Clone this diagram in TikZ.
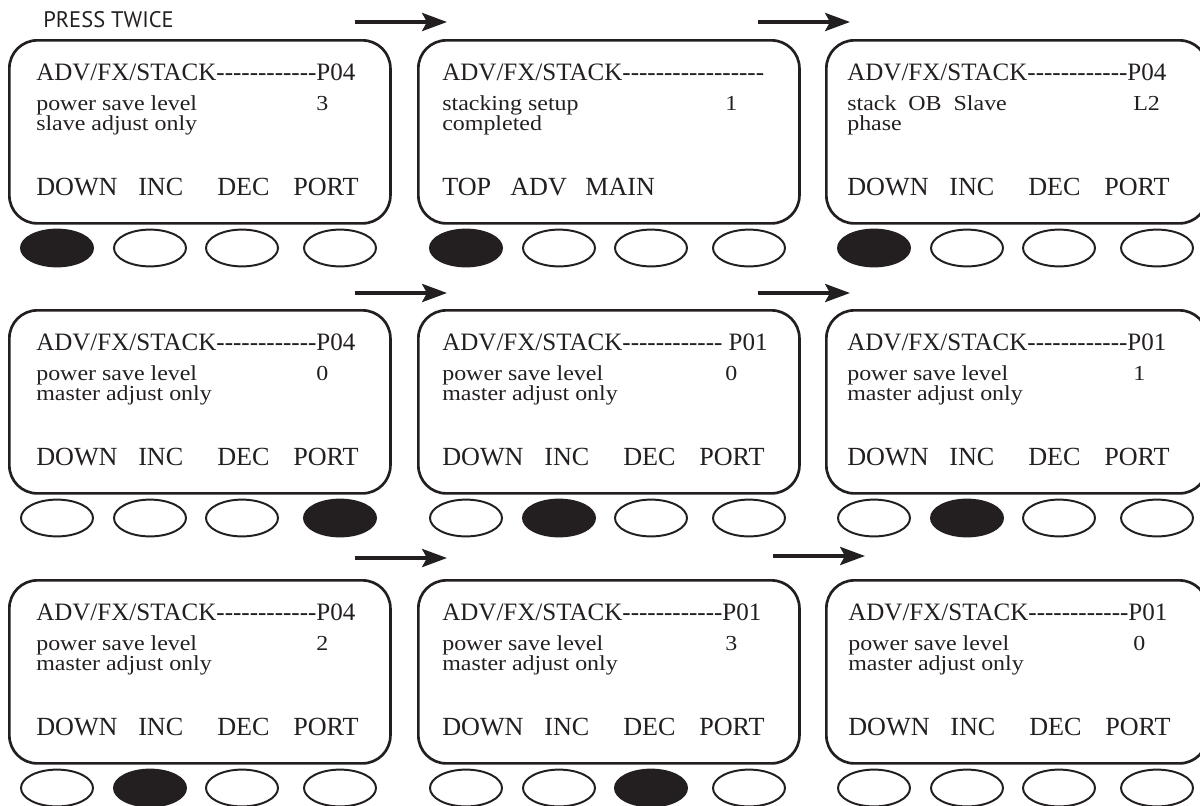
\documentclass[tikz,border=0pt]{standalone}
\usepackage{fontspec}
\setmainfont{Liberation Serif}
\newfontfamily\widefont[FakeStretch=1.12]{Liberation Serif}
\newfontfamily\notefont{PT Sans}
\usetikzlibrary{shapes.geometric,arrows.meta}
\definecolor{ink}{HTML}{231F20}

% a row of hyphens that do not turn into dashes
\newcommand{\dashes}[1]{\foreach \m in {1,...,#1}{-}}
% soft key labels: offset from the text edge / label
\newcommand{\softrow}{0/DOWN,102/INC,181/DEC,257/PORT}
% #1 name, #2 #3 top left corner, #4 text inset, #5 title tail,
% #6 first line, #7 value, #8 second line, #9 key pressed (0 = none)
\newcommand{\lcdscreen}[9]{%
  \node[screen] (#1) at (#2,#3) {};
  \node[lcdtitle] (#1-head) at (#2+#4,#3+41) {ADV/FX/STACK#5};
  \node[lcdline] (#1-l1) at (#2+#4,#3+71) {#6};
  \node[lcdline] (#1-val) at (#2+308,#3+71) {#7};
  \node[lcdline] (#1-l2) at (#2+#4,#3+91) {#8};
  \foreach \dx/\lab [count=\i] in \softrow
    \node[softkey] (#1-s\i) at (#2+#4+\dx,#3+156) {\lab};
  \foreach \dx [count=\i] in {49,142,234,332} {
    \ifnum\i=#9 \def\keyfill{ink}\else\def\keyfill{white}\fi
    \node[key, fill=\keyfill] (#1-k\i) at (#2+\dx,#3+209) {};
  }
}

\begin{document}
\begin{tikzpicture}[x=0.025cm, y=-0.025cm,
  screen/.style={rectangle, draw=ink, line width=1.9pt, rounded corners=0.7cm,
    minimum width=9.525cm, minimum height=4.575cm, inner sep=0pt, anchor=north west},
  lcdtitle/.style={anchor=base west, inner sep=0pt, text=ink, font=\fontsize{17.8}{20}\selectfont},
  lcdline/.style={anchor=base west, inner sep=0pt, text=ink, font=\widefont\fontsize{15.2}{17}\selectfont},
  softkey/.style={anchor=base west, inner sep=0pt, text=ink, font=\fontsize{18.6}{20}\selectfont},
  key/.style={ellipse, draw=ink, line width=1.4pt, minimum width=1.8cm, minimum height=0.92cm, inner sep=0pt},
  note/.style={anchor=base west, inner sep=0pt, text=ink, font=\notefont\fontsize{16}{18}\selectfont},
  flow/.style={draw=ink, line width=2.8pt, -{Stealth[length=0.62cm, width=0.45cm, inset=0.12cm]}}]
  \useasboundingbox (0,0) rectangle (1200,805);
  \node[note] (press) at (43,27) {PRESS TWICE};
  % top row
  \lcdscreen{s11}{8}{39}{28}{\dashes{12}P04}{power save level}{3}{slave adjust only}{1}
  {\renewcommand{\softrow}{0/TOP,68/ADV,143/MAIN}%
  \lcdscreen{s12}{417}{39}{25}{\dashes{17}}{stacking setup}{1}{completed}{1}}
  \lcdscreen{s13}{825}{39}{22}{\dashes{12}P04}{stack\ \ OB\ \ Slave}{L2}{phase}{1}
  % middle row
  \lcdscreen{s21}{8}{309}{28}{\dashes{12}P04}{power save level}{0}{master adjust only}{4}
  \lcdscreen{s22}{417}{309}{25}{\dashes{12}\ P01}{power save level}{0}{master adjust only}{2}
  \lcdscreen{s23}{825}{309}{22}{\dashes{12}P01}{power save level}{1}{master adjust only}{2}
  % bottom row
  \lcdscreen{s31}{8}{579}{28}{\dashes{12}P04}{power save level}{2}{master adjust only}{2}
  \lcdscreen{s32}{417}{579}{25}{\dashes{12}P01}{power save level}{3}{master adjust only}{3}
  \lcdscreen{s33}{825}{579}{23}{\dashes{12}P01}{power save level}{0}{master adjust only}{0}
  % arrows between the screens
  \foreach \n/\xa/\xb/\yy in {1/355/447/22, 2/758/850/22, 3/355/447/293,
      4/758/850/293, 5/355/447/558, 6/773/865/556} {
    \coordinate (from\n) at (\xa,\yy);
    \coordinate (to\n) at (\xb,\yy);
    \draw[flow] (from\n) -- (to\n);
  }
\end{tikzpicture}
\end{document}
